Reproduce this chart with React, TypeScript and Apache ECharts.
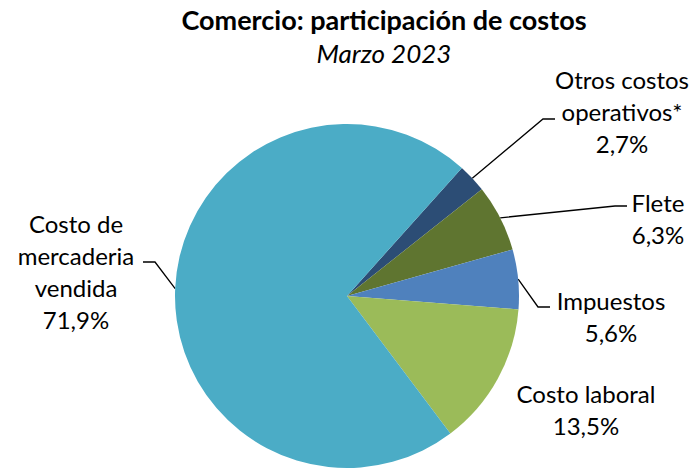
import React, { useEffect, useRef } from "react";
import * as echarts from "echarts";

const categories = [
  "Otros costos\noperativos*",
  "Flete",
  "Impuestos",
  "Costo laboral",
  "Costo de\nmercaderia\nvendida",
];
const values = [2.7, 6.3, 5.6, 13.5, 71.9];
const colors = ["#2C4D75", "#5F7530", "#4F81BD", "#9BBB59", "#4BACC6"];

const titleText = "Comercio: participación de costos";
const subtitleText = "Marzo 2023";

// label placement (center of text block) and leader-line bend/end points
const labelLayouts: { x: number; y: number; line: number[][] | null }[] = [
  { x: 622, y: 111, line: [[543, 119], [555, 119]] },
  { x: 658, y: 218, line: [[615, 206], [627, 206]] },
  { x: 611, y: 316, line: [[538, 307], [550, 307]] },
  { x: 586, y: 409, line: null },
  { x: 76, y: 271, line: [[155, 262], [143, 262]] },
];

const FONT = "Lato, 'Liberation Sans', sans-serif";

export default function App() {
  const ref = useRef<HTMLDivElement>(null);
  useEffect(() => {
    if (!ref.current) return;
    const chart = echarts.init(ref.current, undefined, { renderer: "svg" });
    chart.setOption({
      animation: false,
      backgroundColor: "#ffffff",
      title: {
        text: titleText,
        subtext: subtitleText,
        left: 379,
        top: 1,
        textAlign: "center",
        itemGap: 7,
        textStyle: { fontFamily: FONT, fontWeight: "bold", fontSize: 27, color: "#000" },
        subtextStyle: { fontFamily: FONT, fontStyle: "italic", fontSize: 26, color: "#000" },
      },
      series: [
        {
          type: "pie",
          center: [347, 296],
          radius: 172,
          startAngle: 48.1,
          clockwise: true,
          avoidLabelOverlap: false,
          data: categories.map((name, i) => ({
            name,
            value: values[i],
            itemStyle: { color: colors[i] },
            labelLine: { show: labelLayouts[i].line !== null },
          })),
          itemStyle: { borderColor: "#ffffff", borderWidth: 0 },
          label: {
            show: true,
            position: "outside",
            fontFamily: FONT,
            fontSize: 24,
            lineHeight: 32,
            color: "#000",
            align: "center",
            formatter: (p: any) => `${p.name}\n${p.value.toFixed(1).replace(".", ",")}%`,
          },
          labelLine: {
            show: true,
            lineStyle: { color: "#000", width: 1.3 },
          },
          labelLayout: (params: any) => {
            const L = labelLayouts[params.dataIndex];
            const out: any = { x: L.x, y: L.y, align: "center", verticalAlign: "middle" };
            if (L.line && params.labelLinePoints && params.labelLinePoints[0]) {
              out.labelLinePoints = [params.labelLinePoints[0], L.line[0], L.line[1]];
            }
            return out;
          },
          emphasis: { disabled: true },
        },
      ],
    });
    return () => chart.dispose();
  }, []);
  return (
    <div
      ref={ref}
      style={{ position: "fixed", left: 0, top: 0, width: 693, height: 469, background: "#fff" }}
    />
  );
}
